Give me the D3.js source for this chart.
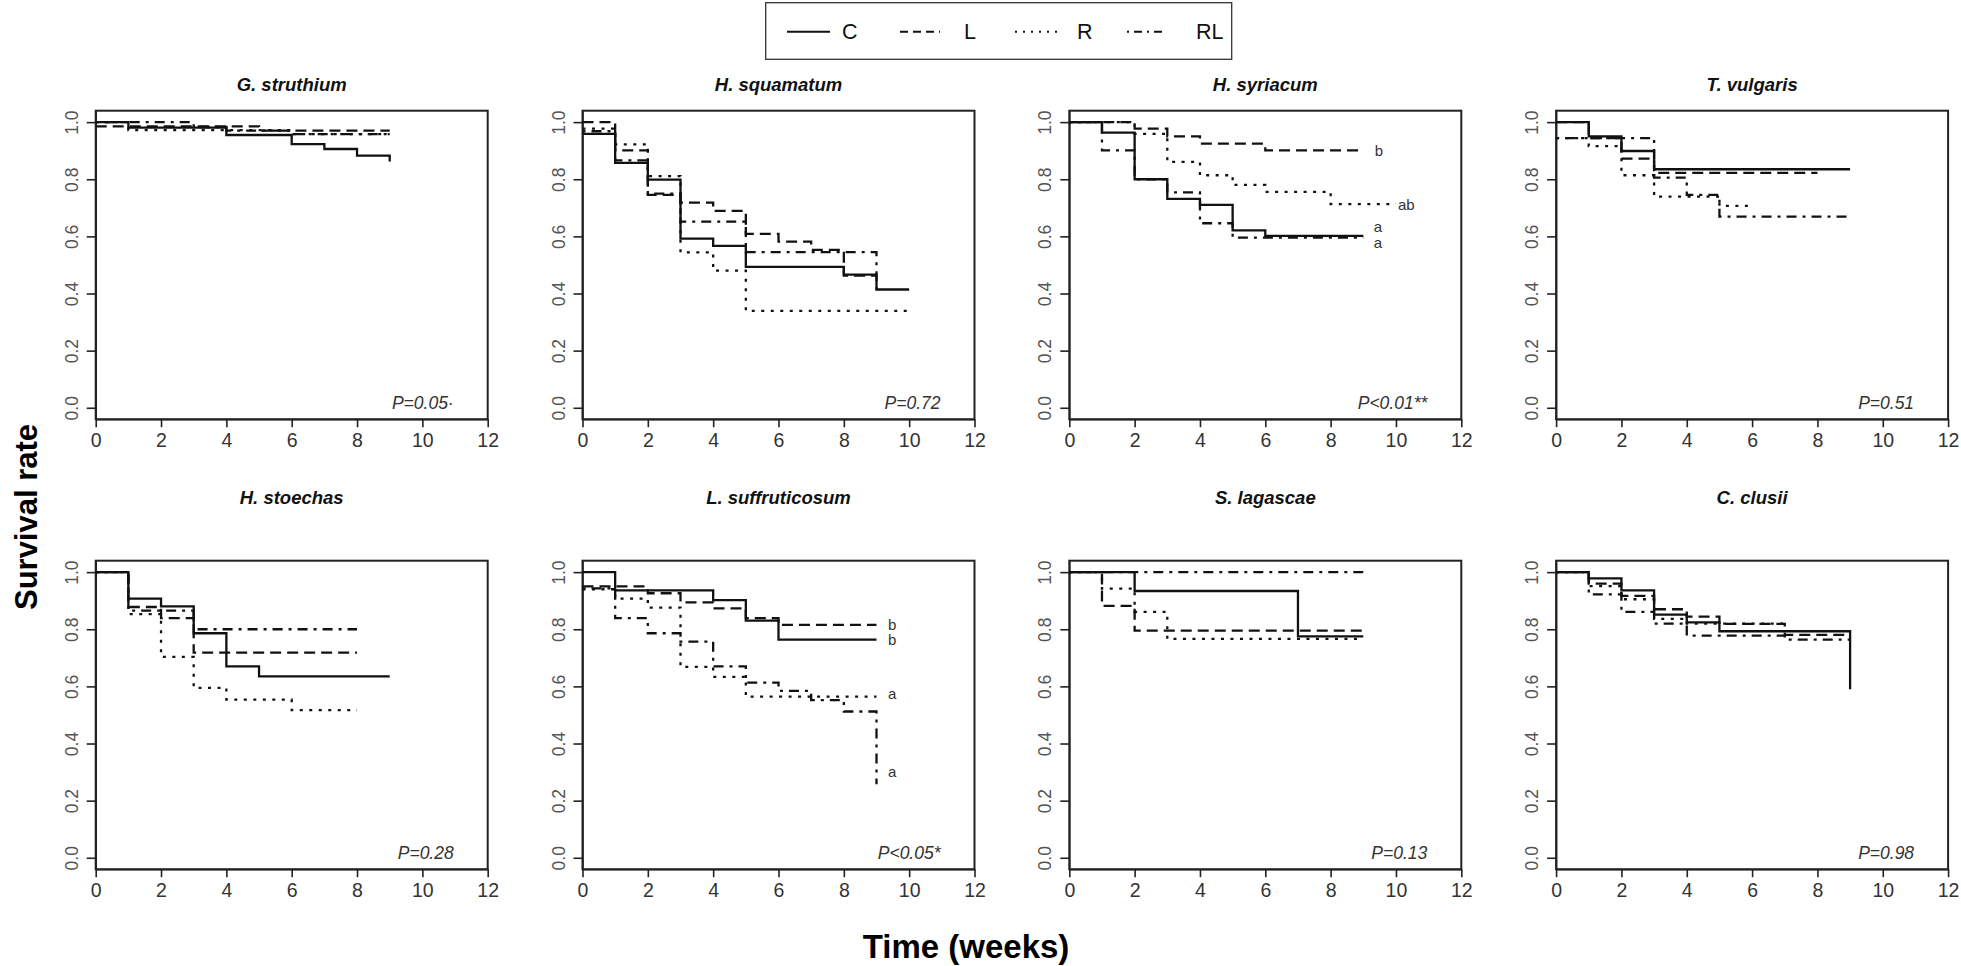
<!DOCTYPE html>
<html><head><meta charset="utf-8">
<script src="https://cdn.jsdelivr.net/npm/d3@7"></script>
<style>
body{margin:0;background:#fff}
svg{display:block}
text{font-family:"Liberation Sans",Arial,Helvetica,sans-serif}
</style>
</head><body>
<svg id="chart" width="1961" height="966"></svg>
<script>
// ---------------- data ----------------
const species = ["G. struthium","H. squamatum","H. syriacum","T. vulgaris",
                 "H. stoechas","L. suffruticosum","S. lagascae","C. clusii"];
const pLabels = ["P=0.05·","P=0.72","P<0.01**","P=0.51",
                 "P=0.28","P<0.05*","P=0.13","P=0.98"];
const treatments = ["C","L","R","RL"];
const xTicks = [0,2,4,6,8,10,12];
const yTicks = [0,0.2,0.4,0.6,0.8,1.0];

// step curves: t = times of steps, s = survival from that time on, end = last follow-up
const gStruthium = {
  C:  {t:[0,1,4,6,7,8,9], s:[1,0.981,0.955,0.923,0.906,0.883,0.862], end:9},
  L:  {t:[0,5], s:[0.985,0.970], end:9},
  R:  {t:[0,1,6], s:[1,0.972,0.958], end:9},
  RL: {t:[0,3,4,6], s:[1,0.983,0.970,0.958], end:9}
};
const hSquamatum = {
  C:  {t:[0,1,2,3,4,5,8,9], s:[0.959,0.857,0.799,0.592,0.567,0.493,0.466,0.414], end:10},
  L:  {t:[0,1,2,3,4,5,6,7,8], s:[1,0.901,0.745,0.718,0.689,0.609,0.582,0.553,0.463], end:9},
  R:  {t:[0,1,2,3,4,5], s:[0.977,0.922,0.811,0.544,0.480,0.339], end:10},
  RL: {t:[0,1,2,3,5,9], s:[0.968,0.866,0.750,0.652,0.545,0.414], end:9}
};
const hSyriacum = {
  C:  {t:[0,1,2,3,4,5,6], s:[1,0.963,0.800,0.731,0.710,0.621,0.602], end:9},
  L:  {t:[0,2,3,4,6], s:[1,0.977,0.950,0.925,0.901], end:9},
  R:  {t:[0,2,3,4,5,6,8], s:[1,0.959,0.861,0.814,0.780,0.756,0.713], end:10},
  RL: {t:[0,1,2,3,4,5], s:[1,0.901,0.800,0.754,0.646,0.596], end:9}
};
const tVulgaris = {
  C:  {t:[0,1,2,3], s:[1,0.950,0.899,0.835], end:9},
  L:  {t:[0,1,2,3], s:[1,0.944,0.872,0.822], end:8},
  R:  {t:[0,1,2,3,5], s:[0.944,0.916,0.814,0.739,0.707], end:6},
  RL: {t:[0,3,4,5], s:[0.944,0.806,0.745,0.669], end:9}
};
const hStoechas = {
  C:  {t:[0,1,2,3,4,5], s:[1,0.907,0.880,0.786,0.670,0.635], end:9},
  L:  {t:[0,1,2,3], s:[1,0.878,0.839,0.718], end:8},
  R:  {t:[0,1,2,3,4,6], s:[1,0.853,0.703,0.595,0.554,0.517], end:8},
  RL: {t:[0,1,3], s:[1,0.865,0.800], end:8}
};
const lSuffruticosum = {
  C:  {t:[0,1,4,5,6], s:[1,0.936,0.902,0.830,0.764], end:9},
  L:  {t:[0,2,3,4,5,6], s:[0.950,0.926,0.894,0.873,0.839,0.815], end:9},
  R:  {t:[0,1,2,3,4,5], s:[0.940,0.907,0.876,0.668,0.633,0.564], end:9},
  RL: {t:[0,1,2,3,4,5,6,7,8,9], s:[0.943,0.839,0.786,0.757,0.670,0.613,0.584,0.552,0.512,0.257], end:9}
};
const sLagascae = {
  C:  {t:[0,2,7], s:[1,0.934,0.775], end:9},
  L:  {t:[0,1,2], s:[1,0.882,0.795], end:9},
  R:  {t:[0,1,2,3], s:[1,0.942,0.861,0.766], end:9},
  RL: {t:[0], s:[1], end:9}
};
const cClusii = {
  C:  {t:[0,1,2,3,4,5,9], s:[1,0.978,0.936,0.851,0.824,0.793,0.590], end:9},
  L:  {t:[0,1,2,3,4,5,7], s:[1,0.960,0.917,0.870,0.844,0.819,0.780], end:9},
  R:  {t:[0,1,2,3,4], s:[1,0.951,0.905,0.836,0.820], end:7},
  RL: {t:[0,1,2,3,4,7], s:[1,0.922,0.861,0.820,0.778,0.764], end:9}
};
const panelData = [gStruthium,hSquamatum,hSyriacum,tVulgaris,
                   hStoechas,lSuffruticosum,sLagascae,cClusii];

// significance letters (panel index, time, survival, text)
const letterPanel = [2,2,2,2,5,5,5,5];
const letterT     = [9.35,10.06,9.32,9.32,9.35,9.35,9.35,9.35];
const letterS     = [0.901,0.713,0.633,0.577,0.818,0.763,0.575,0.301];
const letterText  = ["b","ab","a","a","b","b","a","a"];

// ---------------- layout ----------------
const dash = {C:null, L:"11,6", R:"3,6.5", RL:"3,6,10,6"};
const svg = d3.select("#chart");
const W = 392, H = 308.5;
const colX = i => 95.7 + 486.8*i;
const rowY = [110.7, 560.7];
const titleDy = [-26, -63];

panelData.forEach((pd, idx) => {
  const col = idx % 4, row = Math.floor(idx/4);
  const left = colX(col), top = rowY[row];
  const g = svg.append("g").attr("transform", `translate(${left},${top})`);
  const x = d3.scaleLinear().domain([0,12]).range([0,W]);
  const y = d3.scaleLinear().domain([-0.04,1.04]).range([H,0]);

  // x axis
  const xa = g.append("g").attr("transform",`translate(0,${H})`)
    .call(d3.axisBottom(x).tickValues(xTicks).tickFormat(d3.format("d")).tickSize(8).tickSizeOuter(0));
  xa.select(".domain").attr("stroke","#222").attr("stroke-width",1.6);
  xa.selectAll(".tick line").attr("stroke","#222").attr("stroke-width",1.6);
  xa.selectAll(".tick text").attr("font-size",19.5).attr("fill","#333").attr("dy",null)
    .attr("y",21).attr("dominant-baseline","central");

  // y axis
  const ya = g.append("g")
    .call(d3.axisLeft(y).tickValues(yTicks).tickFormat(d3.format(".1f")).tickSize(9).tickSizeOuter(0));
  ya.select(".domain").attr("stroke","#222").attr("stroke-width",1.6);
  ya.selectAll(".tick line").attr("stroke","#222").attr("stroke-width",1.6);
  ya.selectAll(".tick text").attr("font-size",17.5).attr("fill","#555")
    .attr("x",null).attr("dy",null).attr("text-anchor","middle")
    .attr("dominant-baseline","central")
    .attr("transform","translate(-24,0) rotate(-90)");

  // frame
  g.append("rect").attr("x",0).attr("y",0).attr("width",W).attr("height",H)
    .attr("fill","none").attr("stroke","#222").attr("stroke-width",2);

  // title
  g.append("text").attr("x",W/2).attr("y",titleDy[row])
    .attr("text-anchor","middle").attr("dominant-baseline","central")
    .attr("font-size",18.5).attr("font-weight","bold").attr("font-style","italic")
    .attr("fill","#111").text(species[idx]);

  // curves
  const line = d3.line().x(d=>x(d[0])).y(d=>y(d[1])).curve(d3.curveStepAfter);
  treatments.forEach(tr => {
    const c = pd[tr];
    const pts = c.t.map((t,i)=>[t,c.s[i]]);
    pts.push([c.end, c.s[c.s.length-1]]);
    g.append("path").attr("d", line(pts)).attr("fill","none")
      .attr("stroke","#111").attr("stroke-width",2.3)
      .attr("stroke-dasharray", dash[tr]);
  });

  // p value
  g.append("text").attr("x",W-34).attr("y",H-10).attr("text-anchor","end")
    .attr("font-size",17.5).attr("font-style","italic").attr("fill","#333")
    .text(pLabels[idx]);

  // letters
  letterPanel.forEach((p,i)=>{
    if (p!==idx) return;
    g.append("text").attr("x",x(letterT[i])).attr("y",y(letterS[i]))
      .attr("dominant-baseline","central").attr("font-size",15).attr("fill","#333")
      .text(letterText[i]);
  });
});

// axis titles
svg.append("text").attr("transform","translate(26,517) rotate(-90)")
  .attr("text-anchor","middle").attr("dominant-baseline","central")
  .attr("font-size",31).attr("font-weight","bold").attr("fill","#000").text("Survival rate");
svg.append("text").attr("x",966).attr("y",958).attr("text-anchor","middle")
  .attr("font-size",33).attr("font-weight","bold").attr("fill","#000").text("Time (weeks)");

// legend
const lg = svg.append("g");
lg.append("rect").attr("x",765.7).attr("y",2.7).attr("width",466).attr("height",56.6)
  .attr("fill","#fff").attr("stroke","#333").attr("stroke-width",1.3);
const legLineX = [787,900,1015,1127];
const legLineW = [43,40,42,36];
const legTextX = [842,964,1077,1196];
treatments.forEach((tr,i)=>{
  lg.append("line").attr("x1",legLineX[i]).attr("x2",legLineX[i]+legLineW[i])
    .attr("y1",31.7).attr("y2",31.7).attr("stroke","#111").attr("stroke-width",2)
    .attr("stroke-dasharray", tr==="L" ? "8,5" : tr==="R" ? "2,6" : tr==="RL" ? "2,5,8,5" : null);
  lg.append("text").attr("x",legTextX[i]).attr("y",31.7).attr("dominant-baseline","central")
    .attr("font-size",21.5).attr("fill","#111").text(tr);
});
</script>
</body></html>
